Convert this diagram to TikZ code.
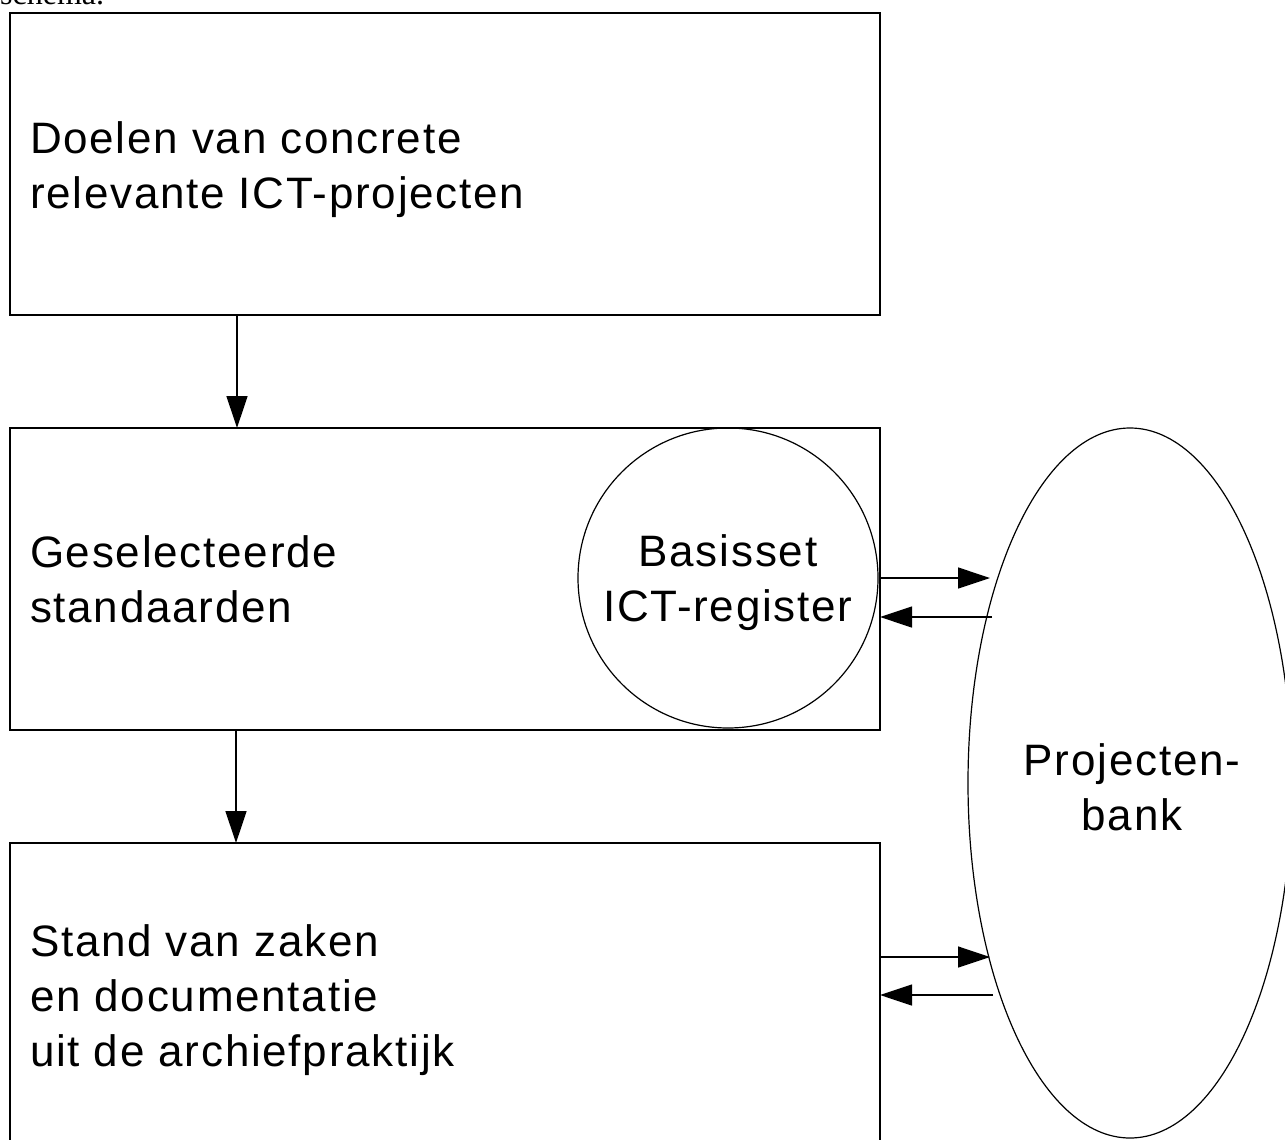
\documentclass[tikz,border=0pt]{standalone}
\usepackage{fontspec}
\newfontfamily\diag{Liberation Sans}[LetterSpace=4]
\newfontfamily\serifhead{Liberation Serif}
\usetikzlibrary{arrows.meta,shapes.geometric}
\begin{document}
\begin{tikzpicture}[x=1pt,y=-1pt,
  label/.style={font=\diag\fontsize{44}{55}\selectfont,inner sep=0pt,outer sep=0pt},
  lefttext/.style={label,align=left,anchor=base west},
  midtext/.style={label,align=center,anchor=base},
  box/.style={draw,line width=1.6pt,rectangle,minimum width=870pt,minimum height=302pt,
    inner sep=0pt,anchor=north west,outer sep=0pt},
  roundbox/.style={draw,line width=1.2pt,inner sep=0pt,outer sep=0pt},
  arr/.style={line width=1.3pt,-{Triangle[length=32pt,width=21pt]}},
]
\useasboundingbox (0,0) rectangle (1285,1140);
\clip (0,0) rectangle (1285,1140);
\node[font=\serifhead\fontsize{32}{36}\selectfont,anchor=base west,inner sep=0pt] (head) at (0,5) {schema.};
\node[box] (b1) at (10,13) {};
\node[box] (b2) at (10,428) {};
\node[box] (b3) at (10,843) {};
\node[roundbox,circle,minimum size=300pt] (reg) at (728,578) {};
\node[roundbox,ellipse,minimum width=324pt,minimum height=710pt] (pb) at (1130,783) {};
\node[lefttext] (t1) at (30,208) {Doelen van concrete\\relevante ICT-projecten};
\node[lefttext] (t2) at (30,622) {Geselecteerde\\standaarden};
\node[lefttext] (t3) at (30,1066) {Stand van zaken\\en documentatie\\uit de archiefpraktijk};
\node[midtext] (t4) at (728,621) {Basisset\\ICT-register};
\node[midtext] (t5) at (1132,830) {Projecten-\\bank};
\draw[arr] ([xshift=227pt]b1.south west) -- ([xshift=227pt]b2.north west);
\draw[arr] ([xshift=226pt]b2.south west) -- ([xshift=226pt]b3.north west);
\coordinate (p1) at (990,578);
\coordinate (p2) at (992,617);
\coordinate (p3) at (990,957);
\coordinate (p4) at (993,995);
\draw[arr] (b2.east |- p1) -- (p1);
\draw[arr] (p2) -- (b2.east |- p2);
\draw[arr] (b3.east |- p3) -- (p3);
\draw[arr] (p4) -- (b3.east |- p4);
\end{tikzpicture}
\end{document}
